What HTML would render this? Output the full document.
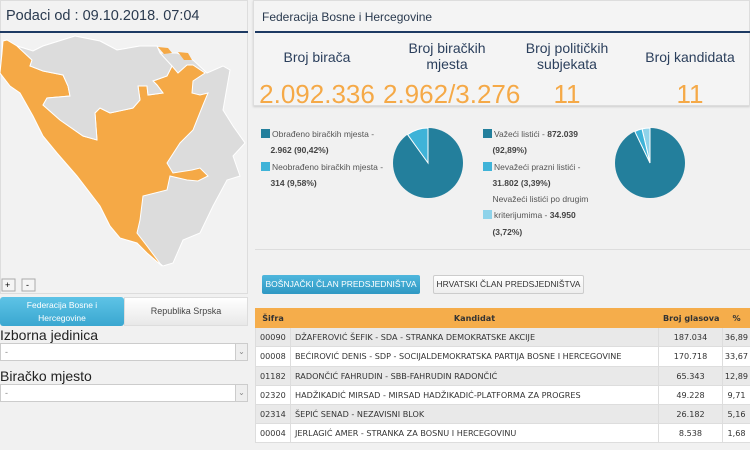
<!DOCTYPE html>
<html><head><meta charset="utf-8"><style>
*{box-sizing:border-box;margin:0;padding:0}
body{width:750px;height:450px;background:#f1f1f1;font-family:"Liberation Sans",sans-serif;position:relative;overflow:hidden;color:#333}
.abs{position:absolute}
.lp{left:0;top:0;width:248px;height:294px;background:#f2f2f2;border:1px solid #ddd}
.hd{font-size:13px;color:#2a3a4f}
.stat{position:absolute;top:40px;text-align:center;font-size:14px;color:#2b3f5c;line-height:16px}
.val{position:absolute;top:79px;text-align:center;font-size:26px;color:#f5a947;white-space:nowrap}
.lg{font-size:8.5px;color:#555;line-height:16.3px;white-space:nowrap}
.lg b{color:#444}
.sq{display:inline-block;width:9px;height:9px;vertical-align:-1px;margin-right:2px}
table{border-collapse:collapse;font-size:8.1px;color:#333;font-family:"DejaVu Sans",sans-serif;table-layout:fixed}
td,th{border:1px solid #ddd;height:19.2px;padding:0 4px;white-space:nowrap;overflow:hidden}
td:last-child,th:last-child{padding:0}
th{background:#f5ad4b;color:#333;font-weight:bold;border-color:#f5ad4b}
tr:nth-child(even) td{background:#e9e9e9}
tr:nth-child(odd) td{background:#fff}
.sel{left:0;width:248px;height:18px;background:#fff;border:1px solid #ccc;font-size:9px;padding-left:4px;color:#888;line-height:16px}
.sel span{position:absolute;right:0;top:0;width:12px;height:16px;border-left:1px solid #ccc;background:#eee;font-size:8px;text-align:center;line-height:16px}
</style></head><body>
<div class="abs lp"></div>
<div class="abs hd" style="left:6px;top:8px;font-size:14.5px">Podaci od : 09.10.2018. 07:04</div>
<div class="abs" style="left:0;top:31px;width:248px;height:2px;background:#1d3a63"></div>
<svg class="abs" style="left:0;top:0" width="250" height="295">
<polygon fill="#dcdcdc" stroke="#fff" stroke-width="1" points="3,41 7,40 17,46 33,51 43,46 75,36 100,41 117,50 140,46 157,46 160,53 177,53 193,60 207,73 223,66 230,70 223,110 233,126 245,143 233,156 240,176 227,180 213,206 200,233 183,240 173,263 163,266 147,253 137,243 120,238 110,226 100,206 77,176 57,153 43,136 33,116 20,93 10,86 0,73 2,53"/>
<polygon fill="#f5a946" stroke="#fff" stroke-width="1" points="3,41 7,40 17,46 32,60 30,66 43,71 63,75 68,86 70,96 47,98 43,105 60,120 83,136 97,140 95,113 100,108 110,113 133,108 140,100 138,86 147,86 148,95 163,93 157,85 153,81 167,76 172,66 178,73 187,65 193,65 205,73 193,81 192,93 200,95 208,93 203,105 193,130 180,143 167,163 173,173 192,170 200,168 208,176 198,181 187,180 170,176 167,190 143,196 140,220 137,233 147,246 162,266 147,253 137,243 120,238 110,226 100,206 77,176 57,153 43,136 33,116 20,93 10,86 0,73 2,53"/>
<polygon fill="#dcdcdc" stroke="#fff" stroke-width="1" points="17,46 32,60 30,66 43,71 63,75 68,86 70,96 47,98 43,105 60,120 83,136 97,140 95,113 100,108 110,113 133,108 140,100 138,86 147,86 148,95 163,93 157,85 153,81 167,76 172,66 160,53 157,46 140,46 117,50 100,41 75,36 43,46 33,51"/>
<polygon fill="#f5a946" points="158,47 168,48 172,53 164,54"/>
<polygon fill="#f5a946" points="178,52 188,53 192,60 184,60"/>
<rect x="2" y="279" width="13" height="12" fill="#f5f5f5" stroke="#aaa"/><text x="5" y="288" font-size="9">+</text>
<rect x="22" y="279" width="13" height="12" fill="#f5f5f5" stroke="#aaa"/><text x="26" y="288" font-size="9">-</text>
</svg>
<div class="abs" style="left:0;top:297px;width:124px;height:29px;background:linear-gradient(#5ec3e6,#3aa7d0);border-radius:3px;color:#fff;font-size:8.5px;text-align:center;line-height:13px;padding-top:2px">Federacija Bosne i<br>Hercegovine</div>
<div class="abs" style="left:124px;top:297px;width:124px;height:29px;background:linear-gradient(#fff,#e8e8e8);border:1px solid #ddd;font-size:9px;text-align:center;line-height:27px;color:#444">Republika Srpska</div>
<div class="abs" style="left:0;top:327px;font-size:14px;color:#222">Izborna jedinica</div>
<div class="abs sel" style="top:343px">-<span>⌄</span></div>
<div class="abs" style="left:0;top:368px;font-size:14px;color:#222">Biračko mjesto</div>
<div class="abs sel" style="top:384px">-<span>⌄</span></div>

<div class="abs" style="left:253px;top:0;width:497px;height:106px;background:#f4f4f4;border:1px solid #ddd;box-shadow:0 1px 2px #ccc"></div>
<div class="abs hd" style="left:262px;top:10px;font-size:12px">Federacija Bosne i Hercegovine</div>
<div class="abs" style="left:255px;top:31px;width:495px;height:2px;background:#1d3a63"></div>
<div class="stat" style="left:255px;width:124px;top:49px">Broj birača</div>
<div class="stat" style="left:385px;width:124px">Broj biračkih<br>mjesta</div>
<div class="stat" style="left:505px;width:124px">Broj političkih<br>subjekata</div>
<div class="stat" style="left:628px;width:124px;top:49px">Broj kandidata</div>
<div class="val" style="left:255px;width:124px">2.092.336</div>
<div class="val" style="left:383px;width:136px">2.962/3.276</div>
<div class="val" style="left:505px;width:124px">11</div>
<div class="val" style="left:628px;width:124px">11</div>

<div class="abs lg" style="left:261px;top:126px">
<span class="sq" style="background:#237f9c"></span>Obrađeno biračkih mjesta -<br>&nbsp;&nbsp;&nbsp;&nbsp;<b>2.962 (90,42%)</b><br>
<span class="sq" style="background:#3fb3d8"></span>Neobrađeno biračkih mjesta -<br>&nbsp;&nbsp;&nbsp;&nbsp;<b>314 (9,58%)</b></div>
<div class="abs lg" style="left:483px;top:126px">
<span class="sq" style="background:#237f9c"></span>Važeći listići - <b>872.039</b><br>&nbsp;&nbsp;&nbsp;&nbsp;<b>(92,89%)</b><br>
<span class="sq" style="background:#3fb3d8"></span>Nevažeći prazni listići -<br>&nbsp;&nbsp;&nbsp;&nbsp;<b>31.802 (3,39%)</b><br>
&nbsp;&nbsp;&nbsp;&nbsp;Nevažeći listići po drugim<br><span class="sq" style="background:#8fd3ea"></span>kriterijumima - <b>34.950</b><br>&nbsp;&nbsp;&nbsp;&nbsp;<b>(3,72%)</b></div>
<svg class="abs" style="left:393px;top:125px" width="80" height="80">
<circle cx="35" cy="38" r="35" fill="#237f9c"/>
<path d="M35,38 L35,3 A35,35 0 0 0 14.6,9.6 Z" fill="#3fb3d8" stroke="#fff" stroke-width="1"/>
</svg>
<svg class="abs" style="left:615px;top:125px" width="80" height="80">
<circle cx="35" cy="38" r="35" fill="#237f9c"/>
<path d="M35,38 L35,3 A35,35 0 0 0 27,3.9 Z" fill="#8fd3ea" stroke="#fff" stroke-width="1"/>
<path d="M35,38 L27,3.9 A35,35 0 0 0 19.8,6.5 Z" fill="#3fb3d8" stroke="#fff" stroke-width="1"/>
</svg>
<div class="abs" style="left:255px;top:249px;width:495px;height:1px;background:#ddd"></div>
<div class="abs" style="left:262px;top:275px;width:158px;height:19px;background:linear-gradient(#4fb7dd,#2f98c3);border-radius:2px;color:#fff;font-size:8.5px;line-height:19px;text-align:center">BOŠNJAČKI ČLAN PREDSJEDNIŠTVA</div>
<div class="abs" style="left:433px;top:275px;width:151px;height:19px;background:linear-gradient(#fff,#eee);border:1px solid #ccc;border-radius:2px;color:#333;font-size:8.5px;line-height:17px;text-align:center">HRVATSKI ČLAN PREDSJEDNIŠTVA</div>
<table class="abs" style="left:255px;top:308px;width:495px">
<colgroup><col style="width:35px"><col style="width:368px"><col style="width:64px"><col style="width:28px"></colgroup>
<tr><th>Šifra</th><th>Kandidat</th><th>Broj glasova</th><th>%</th></tr>
<tr><td>00090</td><td>DŽAFEROVIĆ ŠEFIK - SDA - STRANKA DEMOKRATSKE AKCIJE</td><td align="center">187.034</td><td align="center">36,89</td></tr>
<tr><td>00008</td><td>BEĆIROVIĆ DENIS - SDP - SOCIJALDEMOKRATSKA PARTIJA BOSNE I HERCEGOVINE</td><td align="center">170.718</td><td align="center">33,67</td></tr>
<tr><td>01182</td><td>RADONČIĆ FAHRUDIN - SBB-FAHRUDIN RADONČIĆ</td><td align="center">65.343</td><td align="center">12,89</td></tr>
<tr><td>02320</td><td>HADŽIKADIĆ MIRSAD - MIRSAD HADŽIKADIĆ-PLATFORMA ZA PROGRES</td><td align="center">49.228</td><td align="center">9,71</td></tr>
<tr><td>02314</td><td>ŠEPIĆ SENAD - NEZAVISNI BLOK</td><td align="center">26.182</td><td align="center">5,16</td></tr>
<tr><td>00004</td><td>JERLAGIĆ AMER - STRANKA ZA BOSNU I HERCEGOVINU</td><td align="center">8.538</td><td align="center">1,68</td></tr>
</table>
</body></html>
